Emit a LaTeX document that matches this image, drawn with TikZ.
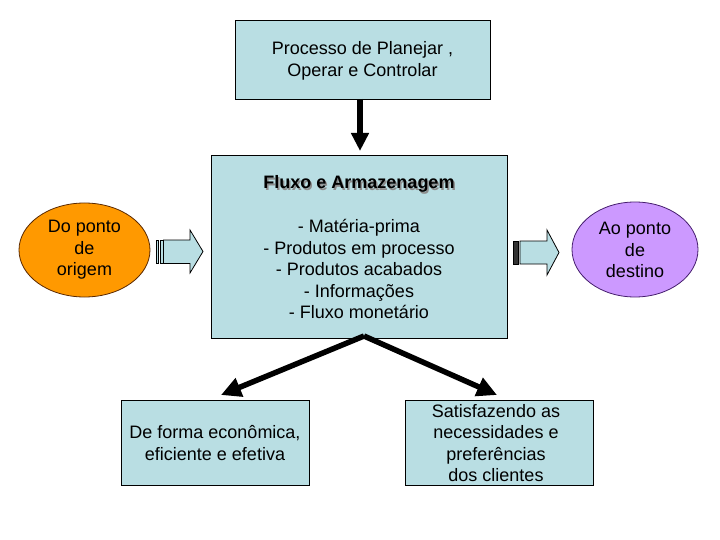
\documentclass[tikz,border=0pt]{standalone}
\usepackage{fontspec}
\setmainfont{Liberation Sans}
\usetikzlibrary{arrows.meta,shapes.geometric}
\definecolor{boxfill}{RGB}{185,222,227}
\definecolor{orangefill}{RGB}{255,153,0}
\definecolor{orangeline}{RGB}{90,40,0}
\definecolor{violetfill}{RGB}{204,153,255}
\definecolor{violetline}{RGB}{70,30,110}
\tikzset{
  txt/.style={font=\fontsize{18}{21.5}\selectfont, align=center, inner sep=0pt},
  bx/.style={draw=black, line width=0.8pt, fill=boxfill, inner sep=0pt},
  bigarrow/.style={line width=5.5pt, -{Triangle[width=19pt,length=20pt]}},
  blockarrow/.style={draw=black, line width=0.8pt, fill=boxfill},
}
\begin{document}
\begin{tikzpicture}[x=1pt,y=-1pt]
\useasboundingbox[fill=white] (0,0) rectangle (720,540);
% top box
\node[bx, minimum width=255pt, minimum height=79pt] (top) at (362.5,59.5) {};
\node[txt] (toptxt) at (362.5,61) {Processo de Planejar ,\\Operar e Controlar};
% middle box
\node[bx, minimum width=296pt, minimum height=183pt] (mid) at (359,246.5) {};
\node[txt, font=\fontsize{18}{21.5}\selectfont\bfseries, text=black!45] (shadow) at (360.5,185.5) {Fluxo e Armazenagem};
\node[txt, font=\fontsize{18}{21.5}\selectfont\bfseries] (title) at (359,184) {Fluxo e Armazenagem};
\node[txt] (list) at (359,269) {- Matéria-prima\\- Produtos em processo\\- Produtos acabados\\- Informações\\- Fluxo monetário};
% ellipses
\node[ellipse, draw=orangeline, line width=0.8pt, fill=orangefill, minimum width=131pt, minimum height=94pt, inner sep=0pt] (orig) at (84.5,250) {};
\node[txt] (origtxt) at (84.5,250) {Do ponto\\de\\origem};
\node[ellipse, draw=violetline, line width=0.8pt, fill=violetfill, minimum width=126pt, minimum height=95pt, inner sep=0pt] (dest) at (635,249.5) {};
\node[txt] (desttxt) at (635,250) {Ao ponto\\de\\destino};
% bottom boxes
\node[bx, minimum width=188pt, minimum height=85pt] (bl) at (215,442.5) {};
\node[txt] (bltxt) at (215,443) {De forma econômica,\\eficiente e efetiva};
\node[bx, minimum width=188pt, minimum height=85pt] (br) at (499,442.5) {};
\node[txt] (brtxt) at (496,443) {Satisfazendo as\\necessidades e\\preferências\\dos clientes};
% vertical arrow
\coordinate (va) at (360,99);
\coordinate (vb) at (360,151);
\draw[line width=6pt, -{Triangle[width=17pt,length=18pt]}] (va) -- (vb);
% diagonal arrows
\coordinate (dsrc) at (364,336);
\coordinate (dl) at (221,395);
\coordinate (dr) at (497,395);
\draw[bigarrow] (dsrc) -- (dl);
\draw[bigarrow] (dsrc) -- (dr);
% left block arrow
\filldraw[blockarrow] (156,240) rectangle (158,263.5);
\filldraw[blockarrow] (160,240) rectangle (163.5,263.5);
\filldraw[blockarrow] (163.5,240) -- (190,240) -- (190,230) -- (203,251.5) -- (190,273) -- (190,263.5) -- (163.5,263.5) -- cycle;
% right block arrow
\filldraw[blockarrow, fill=black!80] (513,241) rectangle (518,264);
\filldraw[blockarrow] (520,241) -- (547,241) -- (547,230) -- (559,252.5) -- (547,275) -- (547,264) -- (520,264) -- cycle;
\end{tikzpicture}
\end{document}
